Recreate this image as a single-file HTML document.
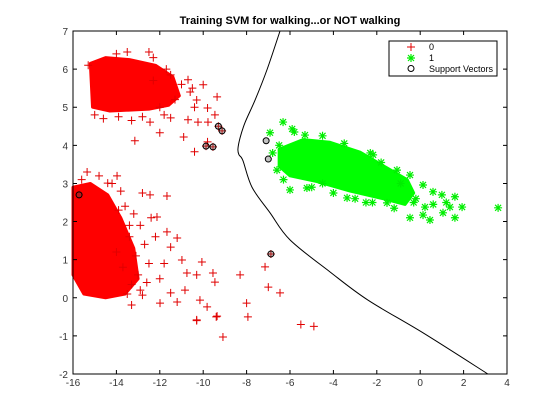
<!DOCTYPE html>
<html><head><meta charset="utf-8"><style>
body{margin:0;background:#fff;}
svg{display:block;font-family:"Liberation Sans",sans-serif;}
</style></head><body>
<svg id="chart" width="560" height="420" viewBox="0 0 560 420" xmlns="http://www.w3.org/2000/svg">
<rect width="560" height="420" fill="#fff"/>
<text x="290" y="24" text-anchor="middle" font-size="11" font-weight="bold" fill="#000">Training SVM for walking...or NOT walking</text>
<g id="marks"></g>
<g id="axes"></g>
<g>
<rect x="389" y="41" width="108" height="35" fill="#fff" stroke="#000" stroke-width="1"/>
<path d="M407,47h8M411,43v8" stroke="#e00000" stroke-width="1"/>
<text x="429" y="50" font-size="9" fill="#000">0</text>
<path d="M407,58h8M411,54v8M408,55l6,6M414,55l-6,6" stroke="#00ee00" stroke-width="1.2"/>
<text x="429" y="61" font-size="9" fill="#000">1</text>
<circle cx="411" cy="68.5" r="3" fill="none" stroke="#000"/>
<text x="429" y="72" font-size="9" fill="#000">Support Vectors</text>
</g>
</svg>
<script>
const xTicks=[-16,-14,-12,-10,-8,-6,-4,-2,0,2,4];
const yTicks=[-2,-1,0,1,2,3,4,5,6,7];
const redUpperCore=[[-15.2,6.15],[-14.5,6.3],[-13.4,6.25],[-12.2,6.1],[-11.4,5.8],[-11.1,5.3],[-11.6,5.05],[-12.5,4.95],[-14.3,4.9],[-15.1,5.0]];
const redLowerCore=[[-16,2.9],[-15.2,3.0],[-14.4,2.7],[-13.8,2.1],[-13.2,1.3],[-13.0,0.5],[-13.6,0.1],[-14.5,0.0],[-15.5,0.1],[-16,0.6]];
const greenCore=[[-6.5,3.9],[-5.4,4.15],[-4.16,4.08],[-2.77,3.82],[-1.45,3.38],[-0.6,3.1],[-0.3,2.75],[-0.7,2.45],[-1.71,2.6],[-3.23,2.8],[-4.76,3.05],[-6.0,3.2],[-6.5,3.45]];
const redX=[-12.5,-13.15,-9.36,-10.0,-10.7,-11.5,-10.3,-9.8,-9.46,-9.78,-10.24,-10.9,-12.0,-10.4,-9.8,-10.7,-11.5,-12.45,-12.3,
 -15.35,-13.97,-14.4,-12.8,-12.45,-11.67,-12.13,-11.67,-11.2,-11.5,-10.98,-10.06,-9.55,-10.75,-10.3,-9.46,-10.84,-11.5,-9.82,-9.36,-10.3,-9.09,-8.3,-8.0,-7.94,-7.15,-7.0,-6.46,-11.99,-12.8,-13.3,-11.2,-10.15,-5.5,-4.9,-10.3,-9.4,-9.3,-9.13,-9.87,-9.55,-6.88,-15.72,
 -13.6,-13.2,-12.9,-13.4,-12.7,-13.1,-12.5,-13.0,-12.6,-13.3,-12.2,-12.4,-13.8,-14.2,-12.0,-11.8,-13.5,-12.9,-14.8,-15.6,-13.7,-13.9,-14.0,-13.4,
 -15.0,-14.6,-13.9,-13.3,-12.8,-11.8,-10.6,-10.4,-15.3,-14.0,-13.5,-12.3,-11.7,-11.0,-10.5,-11.3,-12.0];
const redY=[6.45,4.12,5.27,5.59,5.72,5.85,5.19,4.98,4.8,4.61,4.61,4.22,4.33,3.83,4.09,4.67,4.72,4.61,5.7,
 3.3,3.2,3.01,2.75,2.7,2.67,2.12,1.73,1.57,1.33,0.99,0.94,0.65,0.65,0.6,0.41,0.2,0.13,-0.24,-0.48,-0.58,-1.03,0.6,-0.14,-0.5,0.81,0.28,0.13,-0.14,0.07,-0.19,-0.11,-0.06,-0.7,-0.75,-0.6,-0.5,4.5,4.38,3.98,3.96,1.15,2.7,
 2.4,2.2,1.9,1.6,1.4,1.1,0.9,0.6,0.4,0.35,1.6,2.1,2.8,3.0,0.5,0.9,0.1,0.2,3.2,3.1,0.8,2.3,1.2,1.9,
 4.8,4.7,4.75,4.65,4.75,4.8,5.4,5.0,6.1,6.4,6.45,6.3,6.0,5.6,5.5,5.2,5.0];
const greenX=[-6.32,-5.9,-6.92,-5.31,-6.0,-5.22,-6.6,-3.37,-1.53,-0.47,0.13,0.45,1.0,1.6,1.93,1.6,1.05,3.59,0.59,0.13,-0.47,-1.07,-2.17,1.37,0.22,-0.3,0.6,1.2,-2.5,-4.5,
 -6.5,-6.8,-5.8,-4.5,-3.5,-2.3,-1.8,-0.9,-0.2,-1.2,-2.2,-3.0,-4.0,-5.0,-6.3];
const greenY=[4.61,4.43,4.33,4.27,2.83,2.88,3.35,2.62,2.49,2.1,2.17,2.04,2.7,2.65,2.38,2.1,2.23,2.36,2.78,2.96,3.22,3.35,3.75,2.38,2.38,2.5,2.45,2.5,2.5,3.0,
 4.0,3.8,4.35,4.25,4.05,3.8,3.55,3.0,2.6,2.35,2.5,2.6,2.75,2.9,3.1];
const svX=[-9.3,-9.13,-9.87,-9.55,-6.88,-15.72,-7.1,-7.0];
const svY=[4.5,4.38,3.98,3.96,1.15,2.7,4.12,3.64];
const boundaryX=[-6.46,-7.05,-7.6,-8.07,-8.3,-8.4,-8.35,-8.17,-7.75,-6.92,-6.0,-4.16,-2.41,0.13,3.12];
const boundaryY=[7,6,5.2,4.6,4.2,3.9,3.75,3.6,2.9,2.23,1.52,0.68,-0.06,-0.92,-2];

const L=73,R=507,T=31,B=374;
const sx=v=>L+(v+16)/20*(R-L);
const sy=v=>B-(v+2)/9*(B-T);
const NS='http://www.w3.org/2000/svg';
const marks=document.getElementById('marks');
const axes=document.getElementById('axes');
function mk(tag,attrs,parent){const e=document.createElementNS(NS,tag);for(const k in attrs)e.setAttribute(k,attrs[k]);parent.appendChild(e);return e;}

[[redUpperCore,'#ff0000','red-cluster-upper'],[redLowerCore,'#ff0000','red-cluster-lower'],[greenCore,'#00ff00','green-cluster']].forEach(([poly,col,name])=>{
 const p=mk('polygon',{points:poly.map(d=>sx(d[0])+','+sy(d[1])).join(' '),fill:col,stroke:col,'stroke-width':3,'stroke-linejoin':'round'},marks);
 
 
});
redX.forEach((x,i)=>{const cx=sx(x),cy=sy(redY[i]);
 const p=mk('path',{d:`M${cx-4},${cy}h8M${cx},${cy-4}v8`,stroke:'#e00000','stroke-width':1},marks);
 
 
});
greenX.forEach((x,i)=>{const cx=sx(x),cy=sy(greenY[i]);
 const p=mk('path',{d:`M${cx-4},${cy}h8M${cx},${cy-4}v8M${cx-3},${cy-3}l6,6M${cx+3},${cy-3}l-6,6`,stroke:'#00ee00','stroke-width':1.2},marks);
 
 
});
svX.forEach((x,i)=>{
 const c=mk('circle',{cx:sx(x),cy:sy(svY[i]),r:3,fill:'rgba(80,80,80,0.35)',stroke:'#000','stroke-width':1},marks);
 
 
});
const bp=boundaryX.map((x,i)=>[sx(x),sy(boundaryY[i])]);
let d=`M${bp[0][0]},${bp[0][1]}`;
for(let i=0;i<bp.length-1;i++){
 const p0=bp[Math.max(0,i-1)],p1=bp[i],p2=bp[i+1],p3=bp[Math.min(bp.length-1,i+2)];
 d+=` C${p1[0]+(p2[0]-p0[0])/6},${p1[1]+(p2[1]-p0[1])/6} ${p2[0]-(p3[0]-p1[0])/6},${p2[1]-(p3[1]-p1[1])/6} ${p2[0]},${p2[1]}`;
}
const bl=mk('path',{d:d,fill:'none',stroke:'#000','stroke-width':1},marks);



const box=mk('rect',{x:L,y:T,width:R-L,height:B-T,fill:'none',stroke:'#000','stroke-width':1},axes);


xTicks.forEach(v=>{const x=sx(v);
 mk('path',{d:`M${x},${B}v-4M${x},${T}v4`,stroke:'#000'},axes);
 const t=mk('text',{x:x,y:B+12,'text-anchor':'middle','font-size':10,fill:'#333'},axes);
 t.textContent=v;
 
 
});
yTicks.forEach(v=>{const y=sy(v);
 mk('path',{d:`M${L},${y}h4M${R},${y}h-4`,stroke:'#000'},axes);
 const t=mk('text',{x:L-5,y:y+4,'text-anchor':'end','font-size':10,fill:'#333'},axes);
 t.textContent=v;
 
 
});
</script>
</body></html>
